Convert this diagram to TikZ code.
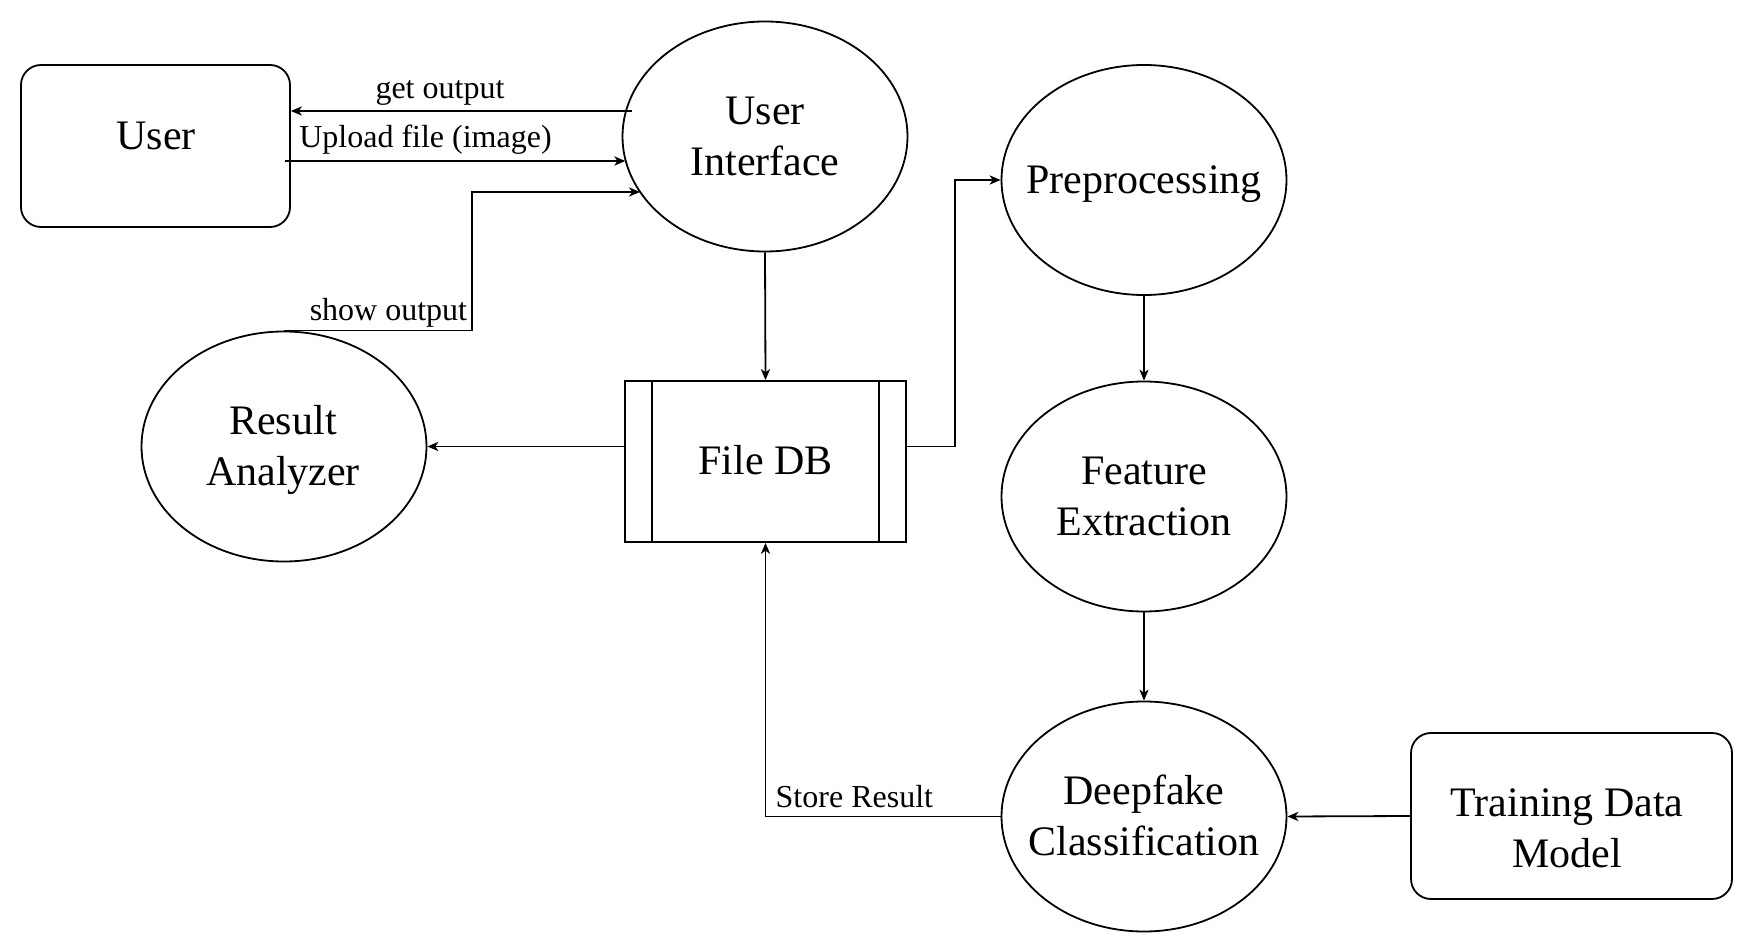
\documentclass[tikz,border=0pt]{standalone}
\usepackage{fontspec}
\setmainfont{Liberation Serif}
\usetikzlibrary{shapes.geometric, arrows.meta, calc}
\newcommand\tlines[2]{\begin{tabular}[t]{@{}c@{}}#1\\#2\end{tabular}}
\begin{document}
\begin{tikzpicture}[x=0.5pt, y=-0.5pt, line width=0.9pt,
  proc/.style={ellipse, draw, minimum width=142.5pt, minimum height=115pt, inner sep=0pt},
  ent/.style={rectangle, draw, rounded corners=10pt, inner sep=0pt},
  store/.style={rectangle, draw, inner sep=0pt, minimum width=140.5pt, minimum height=80.5pt},
  ntext/.style={font=\fontsize{21}{25.5}\selectfont, inner sep=0pt, text height=13.9pt, text depth=0pt},
  ntexttwo/.style={ntext, text depth=25.5pt},
  lbl/.style={font=\fontsize{16}{19}\selectfont, inner sep=0pt, anchor=base},
  arr/.style={-{Stealth[length=5.5pt, width=4.6pt, inset=1.6pt]}}]
\fill[white] (0,0) rectangle (1753,952);
\useasboundingbox (0,0) rectangle (1753,952);

% shapes
\node[ent, minimum width=134.5pt, minimum height=81pt] (user) at (155.5,146) {};
\node[ntext] (usert) at (156,136) {User};

\node[proc] (ui) at (765,136.5) {};
\node[ntexttwo] (uit) at (765,136.5) {\tlines{User}{Interface}};

\node[proc] (pp) at (1144,180) {};
\node[ntext] (ppt) at (1144,180) {Preprocessing};

\node[proc] (fe) at (1144,496.5) {};
\node[ntexttwo] (fet) at (1144,496.5) {\tlines{Feature}{Extraction}};

\node[proc] (df) at (1144,816.5) {};
\node[ntexttwo] (dft) at (1144,816.5) {\tlines{Deepfake}{Classification}};

\node[proc] (ra) at (284,446.5) {};
\node[ntexttwo] (rat) at (283,446.5) {\tlines{Result}{Analyzer}};

\node[store] (fdb) at (765.5,461.5) {};
\draw ([xshift=14pt]fdb.north west) -- ([xshift=14pt]fdb.south west);
\draw ([xshift=-14pt]fdb.north east) -- ([xshift=-14pt]fdb.south east);
\node[ntext] (fdbt) at (765.5,461) {File DB};

\node[ent, minimum width=160.5pt, minimum height=83pt] (tr) at (1571.5,816) {};
\node[ntexttwo] (trt) at (1567,828.5) {\tlines{Training Data}{Model}};

% connectors
\coordinate (gs) at ($(ui.center)+(-133,-25.5)$);
\draw[arr] (gs) -- node[lbl, pos=0.563, yshift=6pt] (lgo) {get output} (user.east |- gs);

\coordinate (us) at ($(user.east)+(-6,15)$);
\coordinate (ue) at ($(ui.center)+(-139.7,24.5)$);
\draw[arr] (us) -- node[lbl, pos=0.413, yshift=6.5pt] (lup) {Upload file (image)} (ue);

\coordinate (se) at ($(ui.center)+(-125,55.5)$);
\draw[arr] (ra.north) -- ++(188,0) node[lbl, anchor=base east, xshift=-2pt, yshift=5pt] (lso) {show output} |- (se);

\draw[arr] (ui.south) -- (fdb.north);
\draw[arr] (fdb.west |- ra.east) -- (ra.east);
\draw[arr] (fdb.east |- ra.east) -- ++(48,0) |- (pp.west);
\draw[arr] (pp.south) -- (fe.north);
\draw[arr] (fe.south) -- (df.north);
\draw[arr] (tr.west) -- (df.east);
\draw[arr] (df.west) -| node[lbl, pos=0.311, yshift=4.5pt] (lsr) {Store Result} (fdb.south);
\end{tikzpicture}
\end{document}
